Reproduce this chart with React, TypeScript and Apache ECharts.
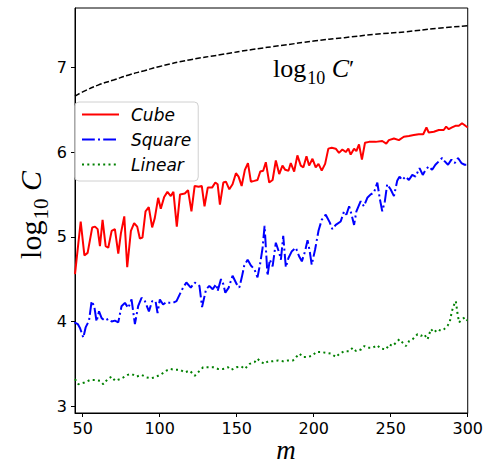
import React, { useEffect, useRef } from "react";
import * as echarts from "echarts";

const xTicks = [50, 100, 150, 200, 250, 300];
const yTicks = [3, 4, 5, 6, 7];

const boundData: [number, number][] = [
  [45, 6.66], [50, 6.71], [60, 6.79], [70, 6.85], [80, 6.91], [90, 6.96], [100, 7.01],
  [120, 7.09], [140, 7.15], [160, 7.21], [180, 7.26], [200, 7.31], [220, 7.35],
  [240, 7.39], [260, 7.42], [280, 7.46], [300, 7.49],
];

const cubeData: [number, number][] = [
  [45, 4.56], [48.7, 5.18], [51.1, 4.78], [53.2, 4.81], [56.2, 5.11], [58, 5.12], [59.7, 5.09],
  [61.2, 4.89], [62.9, 5.2], [64.9, 4.89], [66.6, 4.87], [68.8, 5.07], [70.9, 5.09], [73.1, 4.8],
  [74.8, 5.04], [77, 5.24], [78.9, 4.64], [81.3, 5.07], [83.4, 5.16], [85.4, 5.12], [87.1, 4.98],
  [88.8, 4.99], [90.8, 5.3], [92.9, 5.35], [95.1, 5.11], [96.8, 5.22], [99, 5.46], [100.7, 5.33],
  [102.9, 5.47], [105, 5.53], [107.2, 5.48], [108.9, 5.53], [111.1, 5.12], [113.2, 5.5],
  [116.3, 5.51], [118.4, 5.55], [120.6, 5.3], [122.7, 5.6], [125.3, 5.59], [127.3, 5.6],
  [129.1, 5.36], [131.2, 5.58], [134, 5.58], [136.1, 5.64], [137.6, 5.62], [139.1, 5.38],
  [141.3, 5.64], [143, 5.65], [145.2, 5.56], [147.3, 5.62], [149.5, 5.75], [151.2, 5.71],
  [153.2, 5.6], [155.3, 5.79], [157.3, 5.87], [159.2, 5.65], [161.4, 5.66], [163.5, 5.67],
  [165.3, 5.77], [167.2, 5.78], [168.9, 5.88], [171.1, 5.64], [173.3, 5.67], [175.4, 5.9],
  [177.6, 5.74], [179.7, 5.84], [181.5, 5.79], [183.6, 5.78], [185.1, 5.87], [187.3, 5.77],
  [189.4, 5.96], [191.6, 5.84], [193.3, 5.82], [195.3, 5.95], [197, 5.84], [199.2, 5.92],
  [201.3, 5.82], [203.1, 5.86], [205.2, 5.78], [207.4, 5.86], [209.5, 6.04], [211.7, 6.05],
  [214.3, 6.04], [216.4, 5.99], [218.6, 6.03], [220.8, 6.0], [222.5, 6.04], [224, 5.97],
  [226.2, 6.04], [227.7, 6.01], [229.4, 6.09], [231.3, 5.91], [233.3, 6.11], [235.9, 6.12],
  [240.2, 6.12], [244.5, 6.13], [247.1, 6.1], [248.8, 6.14], [252.1, 6.16], [255.3, 6.14],
  [258.5, 6.18], [261.8, 6.19], [265, 6.2], [268.2, 6.21], [271.1, 6.21], [273.2, 6.29],
  [274.7, 6.23], [278, 6.24], [281.2, 6.26], [284.4, 6.26], [286, 6.3], [287.7, 6.27],
  [289.8, 6.29], [292, 6.31], [294.2, 6.31], [296.3, 6.34], [298.5, 6.31], [300, 6.29],
];

const squareData: [number, number][] = [
  [44.6, 3.99], [46.8, 3.97], [48.3, 3.92], [50.4, 3.81], [51.9, 3.93], [54.1, 4.01], [55.8, 4.24],
  [57.5, 4.18], [59, 4.0], [60.6, 4.12], [62.3, 4.04], [64.4, 4.01], [66.6, 4.03], [68.8, 4.0],
  [70.9, 4.01], [73.1, 3.99], [75.2, 4.18], [77.4, 4.22], [79.6, 4.16], [81.7, 4.26], [83.9, 3.97],
  [86, 4.18], [88.2, 4.28], [90.4, 4.24], [93, 4.12], [95.1, 4.24], [97.3, 4.24], [98.6, 4.1],
  [100.1, 4.26], [102.2, 4.2], [104.4, 4.23], [106.5, 4.22], [108.7, 4.22], [110.9, 4.24],
  [113, 4.32], [115.2, 4.4], [117.3, 4.46], [120.2, 4.4], [122.7, 4.46], [125.8, 4.42],
  [127.5, 4.17], [130.1, 4.38], [132.2, 4.42], [134.4, 4.38], [136.6, 4.44], [137.6, 4.36],
  [139.8, 4.5], [141.3, 4.44], [142.6, 4.34], [144.8, 4.4], [147.3, 4.54], [150, 4.44],
  [151.7, 4.4], [153.4, 4.53], [154.9, 4.66], [157.1, 4.73], [159.2, 4.66], [161.4, 4.62],
  [163.5, 4.52], [165.3, 4.69], [166.8, 4.87], [168.1, 5.13], [169, 4.85], [170, 4.54],
  [171.5, 4.73], [173.3, 4.65], [175.4, 4.93], [177.6, 4.81], [178.7, 4.73], [180.2, 5.01],
  [181.9, 4.64], [183.6, 4.75], [185.8, 4.83], [188.4, 4.87], [190.5, 4.77], [192.3, 4.71],
  [194.4, 4.83], [196, 4.96], [197.4, 4.83], [198.7, 4.67], [200.9, 4.85], [203.1, 5.07],
  [205.2, 5.2], [207.8, 5.26], [210.4, 5.17], [212.1, 5.09], [214.3, 5.14], [217.5, 5.18],
  [219.7, 5.3], [221.2, 5.26], [223, 5.36], [224.6, 5.26], [226.2, 5.14], [227.7, 5.3],
  [230.5, 5.42], [232.6, 5.36], [234.8, 5.46], [237, 5.5], [239.1, 5.52], [241.3, 5.64],
  [242.8, 5.46], [244.5, 5.3], [246.2, 5.42], [247.7, 5.62], [249.9, 5.56], [252.1, 5.48],
  [254.2, 5.66], [255.7, 5.71], [257.5, 5.67], [259.6, 5.71], [261.8, 5.67], [264, 5.73],
  [266.1, 5.71], [268.7, 5.81], [270.8, 5.73], [272.6, 5.79], [274.7, 5.83], [276.9, 5.79],
  [279, 5.85], [281.2, 5.89], [283.4, 5.93], [285.1, 5.89], [287.2, 5.85], [289.4, 5.91],
  [291.6, 5.87], [293.7, 5.93], [295.9, 5.87], [298, 5.85], [299.6, 5.85],
];

const linearData: [number, number][] = [
  [45, 3.32], [47.2, 3.26], [51.1, 3.28], [54.8, 3.31], [58, 3.31], [61.3, 3.3], [63.4, 3.26],
  [66.2, 3.32], [68.8, 3.35], [71, 3.3], [74.2, 3.32], [76.4, 3.34], [79.2, 3.37], [81.8, 3.38],
  [85, 3.35], [88.2, 3.37], [91.5, 3.34], [94.7, 3.33], [98, 3.35], [101.2, 3.38], [104.4, 3.42],
  [106.6, 3.44], [109.8, 3.43], [113.1, 3.43], [116.3, 3.4], [119.5, 3.42], [122.8, 3.36],
  [126, 3.42], [128.2, 3.46], [131.4, 3.46], [134.7, 3.46], [137.9, 3.44], [141.1, 3.44],
  [144.4, 3.46], [146.5, 3.43], [149.8, 3.46], [153, 3.47], [155.2, 3.44], [158.4, 3.5],
  [161.6, 3.52], [163.4, 3.56], [166, 3.52], [168.1, 3.5], [170.3, 3.53], [173.5, 3.53],
  [176.8, 3.54], [180, 3.53], [183.2, 3.54], [186.5, 3.54], [188.6, 3.58], [190.8, 3.62],
  [193, 3.58], [196.2, 3.58], [199.4, 3.6], [201.6, 3.64], [204.8, 3.64], [208.1, 3.63],
  [211.3, 3.62], [214.5, 3.58], [216.7, 3.62], [219.9, 3.65], [223.2, 3.65], [225.3, 3.69],
  [227.5, 3.65], [230.7, 3.67], [232.9, 3.71], [235, 3.69], [238.3, 3.69], [241.1, 3.72],
  [243.7, 3.68], [246.9, 3.67], [249.1, 3.73], [251.2, 3.71], [253.4, 3.75], [255.6, 3.79],
  [257.7, 3.75], [259.9, 3.71], [262, 3.77], [264.2, 3.79], [267.4, 3.85], [269.6, 3.83],
  [271.7, 3.85], [273.9, 3.79], [276.1, 3.91], [278.2, 3.87], [280.4, 3.91], [282.5, 3.89],
  [284.7, 3.91], [286.9, 3.95], [288.4, 4.0], [289.7, 4.12], [291.2, 4.2], [292.3, 4.24],
  [293.3, 4.1], [294.4, 3.99], [296.6, 4.03], [298.3, 4.05], [299.8, 4.01],
];

const SANS = "DejaVu Sans";
const SERIF = "Liberation Serif";

export default function App() {
  const ref = useRef<HTMLDivElement>(null);
  useEffect(() => {
    const chart = echarts.init(ref.current!, null, { renderer: "svg" });
    const option: any = {
      animation: false,
      backgroundColor: "#fff",
      grid: {
        left: 75, right: 16, top: 8, bottom: 54,
        show: true, borderColor: "#000", borderWidth: 1, backgroundColor: "transparent",
      },
      xAxis: {
        type: "value", min: 45, max: 300,
        splitLine: { show: false },
        axisLine: { show: true, lineStyle: { color: "#000", width: 1 } },
        axisTick: { show: true, length: 4, inside: false, customValues: xTicks, lineStyle: { color: "#000" } },
        axisLabel: { customValues: xTicks, fontSize: 16, fontFamily: SANS, color: "#000", margin: 7 },
      },
      yAxis: {
        type: "value", min: 2.92, max: 7.7,
        splitLine: { show: false },
        axisLine: { show: true, lineStyle: { color: "#000", width: 1 } },
        axisTick: { show: true, length: 4, inside: false, customValues: yTicks, lineStyle: { color: "#000" } },
        axisLabel: { customValues: yTicks, fontSize: 16, fontFamily: SANS, color: "#000", margin: 8 },
      },
      legend: {
        data: ["Cube", "Square", "Linear"],
        orient: "vertical",
        left: 75, top: 102,
        itemWidth: 37, itemHeight: 17, itemGap: 8,
        padding: [4, 7, 8, 6],
        backgroundColor: "rgba(255,255,255,0.8)",
        borderColor: "#d0d0d0", borderWidth: 1, borderRadius: 4,
        itemStyle: { opacity: 0 },
        textStyle: { fontSize: 17, fontStyle: "italic", fontFamily: SANS, color: "#000", padding: [0, 0, 0, 7] },
      },
      graphic: [
        {
          type: "text", x: 273, y: 68,
          style: {
            text: "{a|log}{b|10}{c| C}{d|′}",
            verticalAlign: "middle",
            rich: {
              a: { fontFamily: SERIF, fontSize: 26, fill: "#000" },
              b: { fontFamily: SERIF, fontSize: 18, padding: [19, 0, 0, 1], fill: "#000" },
              c: { fontFamily: SERIF, fontSize: 26, fontStyle: "italic", fill: "#000" },
              d: { fontFamily: SERIF, fontSize: 24, fill: "#000" },
            },
          },
        },
        {
          type: "text", x: 30, y: 215, rotation: Math.PI / 2,
          style: {
            text: "{a|log}{b|10}{c| C}",
            align: "center", verticalAlign: "middle",
            rich: {
              a: { fontFamily: SERIF, fontSize: 30, fill: "#000" },
              b: { fontFamily: SERIF, fontSize: 21, padding: [22, 0, 0, 1], fill: "#000" },
              c: { fontFamily: SERIF, fontSize: 30, fontStyle: "italic", fill: "#000" },
            },
          },
        },
        {
          type: "text", x: 286, y: 450,
          style: {
            text: "m", align: "center", verticalAlign: "middle",
            fontFamily: SERIF, fontSize: 27, fontStyle: "italic", fill: "#000",
          },
        },
      ],
      series: [
        {
          name: "bound", type: "line", data: boundData, smooth: true, symbol: "none",
          lineStyle: { color: "#000", width: 1.5, type: [5.5, 2.4] }, z: 2,
        },
        {
          name: "Cube", type: "line", data: cubeData, symbol: "none", color: "#ff0000",
          lineStyle: { color: "#ff0000", width: 2 },
        },
        {
          name: "Square", type: "line", data: squareData, symbol: "none", color: "#0000ff",
          lineStyle: { color: "#0000ff", width: 2, type: [12.8, 3.2, 2, 3.2] },
        },
        {
          name: "Linear", type: "line", data: linearData, symbol: "none", color: "#008000",
          lineStyle: { color: "#008000", width: 2, type: [2, 3.3] },
        },
      ],
    };
    chart.setOption(option);
    return () => chart.dispose();
  }, []);
  return <div ref={ref} style={{ position: "fixed", left: 0, top: 0, width: 486, height: 467 }} />;
}
